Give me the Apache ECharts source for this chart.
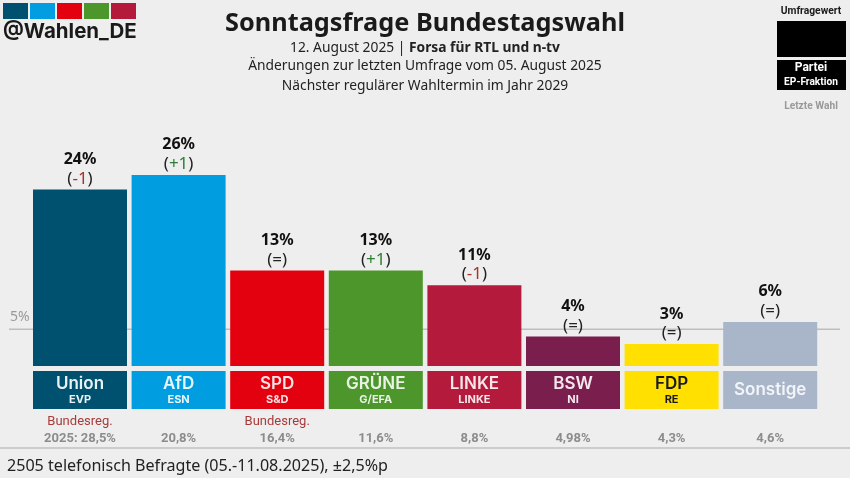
<!DOCTYPE html>
<html>
<head>
<meta charset="utf-8">
<style>
html,body{margin:0;padding:0;background:#eeeeee;}
#main{width:850px;height:478px;}
</style>
<script src="https://cdn.jsdelivr.net/npm/echarts@6/dist/echarts.min.js"></script>
</head>
<body>
<div id="main"></div>
<script>
var parties = ['Union','AfD','SPD','GRÜNE','LINKE','BSW','FDP','Sonstige'];
var fractions = ['EVP','ESN','S&D','G/EFA','LINKE','NI','RE',''];
var values = [24,26,13,13,11,4,3,6];
var changes = ['-1','+1','=','+1','-1','=','=','='];
var lastElection = ['2025: 28,5%','20,8%','16,4%','11,6%','8,8%','4,98%','4,3%','4,6%'];
var government = [true,false,true,false,false,false,false,false];
var colors = ['#00506f','#009ee0','#e3000f','#4c962b','#b41a3b','#7a1f4d','#ffe000','#a9b5c9'];
var tileText = ['#e8f2f5','#e8f6fc','#fbe4e6','#e9f2e4','#f8e6ea','#f4e8ee','#1a1a1a','#f2f4f8'];
var threshold = [5];

var font = '"Noto Sans"';
var partyFont = 'Inter';

var chart = echarts.init(document.getElementById('main'));

function changeColor(c){
    if(c.charAt(0)==='-') return 'neg';
    if(c.charAt(0)==='+') return 'pos';
    return 'eq';
}

var barData = [];
var tileData = [];
for(var i=0;i<values.length;i++){
    barData.push({
        value:values[i],
        itemStyle:{color:colors[i]},
        label:{formatter:'{v|'+values[i]+'%}\n{eq|(}{'+changeColor(changes[i])+'|'+changes[i]+'}{eq|)}'}
    });
    var tile = '{n'+i+'|'+parties[i]+'}';
    if(fractions[i]!=='') tile += '\n{f'+i+'|'+fractions[i]+'}';
    tileData.push({
        value:1,
        itemStyle:{color:colors[i]},
        label:{formatter:tile}
    });
}

var tileRich = {};
for(var j=0;j<parties.length;j++){
    tileRich['n'+j] = {fontFamily:partyFont,fontSize:17,fontWeight:600,lineHeight:19,color:tileText[j]};
    tileRich['f'+j] = {fontFamily:partyFont,fontSize:11,fontWeight:700,lineHeight:12,color:tileText[j]};
}

function logoTile(x,color){
    return {type:'rect',shape:{x:x,y:3,width:25,height:16},style:{fill:color}};
}

var option = {
    backgroundColor:'#eeeeee',
    animation:false,
    title:[
        {text:'Sonntagsfrage Bundestagswahl',left:420,top:6,textAlign:'center',
            textStyle:{fontFamily:font,fontSize:25.3,fontWeight:700,color:'#1a1a1a'}},
        {text:'12. August 2025 | {b|Forsa für RTL und n-tv}',left:420,top:36,textAlign:'center',
            textStyle:{fontFamily:font,fontSize:13.8,fontWeight:400,color:'#222',
                rich:{b:{fontFamily:font,fontSize:13.8,fontWeight:700,color:'#222'}}}},
        {text:'Änderungen zur letzten Umfrage vom 05. August 2025',left:420,top:54,textAlign:'center',
            textStyle:{fontFamily:font,fontSize:13.8,fontWeight:400,color:'#222'}},
        {text:'Nächster regulärer Wahltermin im Jahr 2029',left:420,top:74,textAlign:'center',
            textStyle:{fontFamily:font,fontSize:13.8,fontWeight:400,color:'#222'}},
        {text:'2505 telefonisch Befragte (05.-11.08.2025), ±2,5%p',left:2,top:453,
            textStyle:{fontFamily:font,fontSize:16.1,fontWeight:400,color:'#222'}}
    ],
    graphic:[
        logoTile(3,colors[0]),logoTile(30,colors[1]),logoTile(57,colors[2]),logoTile(84,colors[3]),logoTile(111,colors[4]),
        {type:'text',x:3,y:21,style:{text:'@Wahlen_DE',fontFamily:partyFont,fontSize:20.5,fontWeight:700,fill:'#1a1a1a'}},
        {type:'text',x:811,y:6,style:{text:'Umfragewert',fontFamily:'Roboto',fontSize:10.3,fontWeight:700,fill:'#1a1a1a',align:'center'}},
        {type:'rect',shape:{x:777,y:21,width:69,height:36},style:{fill:'#000'}},
        {type:'rect',shape:{x:777,y:60,width:69,height:30},style:{fill:'#000'}},
        {type:'text',x:811,y:62,style:{text:'Partei',fontFamily:'Roboto',fontSize:12,fontWeight:700,fill:'#fff',align:'center'}},
        {type:'text',x:811,y:77,style:{text:'EP-Fraktion',fontFamily:'Roboto',fontSize:10.2,fontWeight:700,fill:'#fff',align:'center'}},
        {type:'text',x:811,y:101,style:{text:'Letzte Wahl',fontFamily:'Roboto',fontSize:10.2,fontWeight:700,fill:'#999',align:'center'}},
        {type:'line',shape:{x1:0,y1:448,x2:850,y2:448},style:{stroke:'#aaa',lineWidth:1}}
    ],
    grid:[
        {left:30.7,width:788.8,top:72,height:294},
        {left:30.7,width:788.8,top:371,height:38},
        {left:9,width:831,top:72,height:294}
    ],
    xAxis:[
        {type:'category',gridIndex:0,data:parties,show:false},
        {type:'category',gridIndex:1,data:parties,
            axisLine:{show:false},axisTick:{show:false},
            axisLabel:{
                interval:0,margin:4,lineHeight:17,
                formatter:function(v,idx){
                    var top = government[idx] ? 'Bundesreg.' : ' ';
                    return '{g|'+top+'}\n{l|'+lastElection[idx]+'}';
                },
                rich:{
                    g:{fontFamily:'Roboto',fontSize:13,color:'#a83a3a',lineHeight:17},
                    l:{fontFamily:'Roboto',fontSize:13,fontWeight:700,color:'#8c8c8c',lineHeight:17}
                }
            }},
        {type:'value',gridIndex:2,min:0,max:1,show:false}
    ],
    yAxis:[
        {type:'value',gridIndex:0,min:0,max:40,show:false},
        {type:'value',gridIndex:1,min:0,max:1,show:false},
        {type:'value',gridIndex:2,min:0,max:40,show:false}
    ],
    series:[
        {
            type:'line',xAxisIndex:2,yAxisIndex:2,z:1,symbol:'circle',symbolSize:0,silent:true,
            showSymbol:true,showAllSymbol:true,
            lineStyle:{color:'#bdbdbd',width:1.5},
            data:[
                {value:[0,threshold[0]],label:{show:true,position:[1,-19],formatter:threshold[0]+'%',
                    fontFamily:font,fontSize:14,color:'#9a9a9a'}},
                [1,threshold[0]]
            ]
        },
        {
            type:'bar',xAxisIndex:0,yAxisIndex:0,z:2,barWidth:94,
            data:barData,
            label:{
                show:true,position:'top',distance:1,
                rich:{
                    v:{fontFamily:font,fontSize:16,fontWeight:700,color:'#111',lineHeight:20,align:'center'},
                    eq:{fontFamily:font,fontSize:17,color:'#222',lineHeight:19},
                    neg:{fontFamily:font,fontSize:17,color:'#a5322c',lineHeight:19},
                    pos:{fontFamily:font,fontSize:17,color:'#2e7d32',lineHeight:19}
                }
            }
        },
        {
            type:'bar',xAxisIndex:1,yAxisIndex:1,z:2,barWidth:94,
            data:tileData,
            label:{show:true,position:'inside',align:'center',verticalAlign:'middle',rich:tileRich}
        }
    ]
};

chart.setOption(option);
</script>
</body>
</html>
